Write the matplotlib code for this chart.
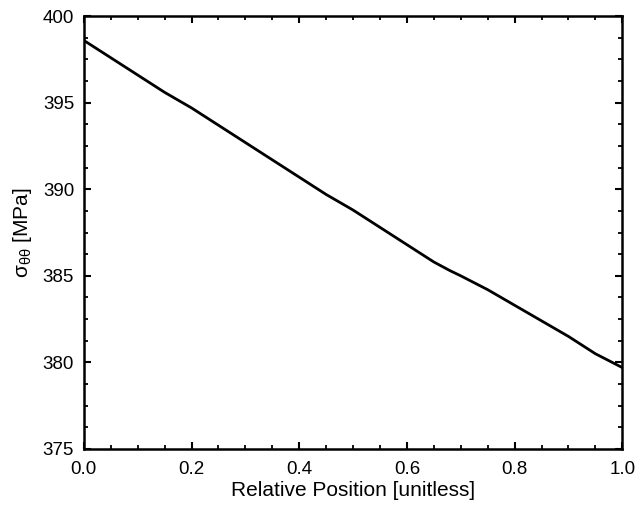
import matplotlib
matplotlib.use('Agg')
import matplotlib.pyplot as plt
from matplotlib.ticker import MultipleLocator

# hoop stress along the normalised position
position = [0.00, 0.05, 0.10, 0.15, 0.20, 0.25, 0.30, 0.35, 0.40, 0.45, 0.50,
            0.55, 0.60, 0.65, 0.68, 0.70, 0.75, 0.80, 0.85, 0.90, 0.95, 1.00]
stress = [398.6, 397.6, 396.6, 395.6, 394.7, 393.7, 392.7, 391.7, 390.7, 389.7, 388.8,
          387.8, 386.8, 385.8, 385.3, 385.0, 384.2, 383.3, 382.4, 381.5, 380.5, 379.7]

plt.rcParams['font.family'] = ['Liberation Sans', 'DejaVu Sans']
plt.rcParams['mathtext.default'] = 'regular'

fig = plt.figure(figsize=(6.35, 5.05), dpi=100)
ax = fig.add_axes([0.132, 0.111, 0.848, 0.857])

ax.plot(position, stress, color='black', linewidth=2.0)

ax.set_xlim(0.0, 1.0)
ax.set_ylim(375, 400)
ax.xaxis.set_major_locator(MultipleLocator(0.2))
ax.xaxis.set_minor_locator(MultipleLocator(0.05))
ax.yaxis.set_major_locator(MultipleLocator(5))
ax.yaxis.set_minor_locator(MultipleLocator(1.25))
ax.xaxis.set_major_formatter(plt.FormatStrFormatter('%.1f'))

ax.tick_params(which='both', direction='in', top=True, right=True,
               labelsize=13.5, colors='black')
ax.tick_params(which='major', length=5, width=1.5)
ax.tick_params(which='minor', length=3, width=1.3)
ax.tick_params(axis='x', which='major', pad=9)
ax.tick_params(axis='y', which='major', pad=7)
for side in ax.spines.values():
    side.set_linewidth(1.8)

ax.set_xlabel('Relative Position [unitless]', fontsize=15, labelpad=2)
ax.set_ylabel(r'$\sigma_{\theta\theta}$ [MPa]', fontsize=15, labelpad=6)

fig.savefig('out.png', dpi=100)
